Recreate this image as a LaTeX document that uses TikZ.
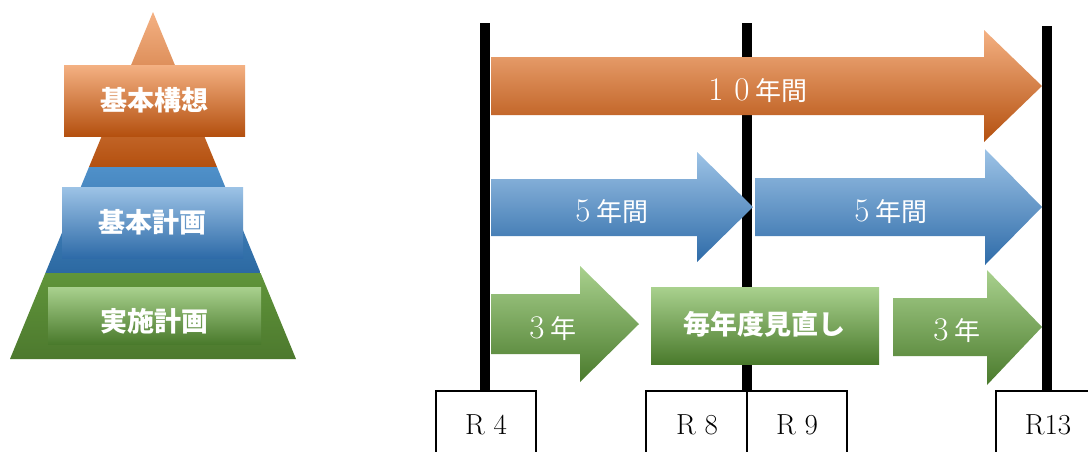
\documentclass[tikz,border=0pt]{standalone}
\usepackage{fontspec}
\newfontfamily\jp{Noto Sans CJK JP}
\definecolor{orL}{HTML}{F4B183}
\definecolor{orM}{HTML}{ED7D31}
\definecolor{orD}{HTML}{B4500F}
\definecolor{blL}{HTML}{9DC3E6}
\definecolor{blM}{HTML}{5B9BD5}
\definecolor{blD}{HTML}{2E6BA8}
\definecolor{grL}{HTML}{A9D18E}
\definecolor{grM}{HTML}{70AD47}
\definecolor{grD}{HTML}{4A7A2C}
\definecolor{pbT}{HTML}{4F90C9}
\definecolor{pbB}{HTML}{2C69A2}
\definecolor{pgT}{HTML}{60953A}
\definecolor{pgB}{HTML}{4D792E}
\newcommand\fwd[1]{\makebox[1em]{\fontsize{33}{36}\selectfont #1}}
\tikzset{
  orangefill/.style={top color=orL, middle color=orM, bottom color=orD},
  bluefill/.style={top color=blL, middle color=blM, bottom color=blD},
  greenfill/.style={top color=grL, middle color=grM, bottom color=grD},
  pyrtext/.style={text=white, font=\jp\bfseries\fontsize{27}{30}\selectfont, inner sep=0pt},
  arrtext/.style={text=white, font=\fontsize{26}{30}\selectfont, inner sep=0pt},
  yearbox/.style={draw=black, line width=1.5pt, fill=white},
  yeartext/.style={font=\fontsize{29}{32}\selectfont, inner sep=0pt},
  timeline/.style={fill=black},
}
\begin{document}
\begin{tikzpicture}[x=1pt,y=-1pt]
\clip (0,0) rectangle (1088,451);
\fill[white] (0,0) rectangle (1088,451);

% ---------- pyramid ----------
\shade[top color=orL, middle color=orM, bottom color=orD]
  (153,12) -- (217,167) -- (89,167) -- cycle;
\shade[top color=pbT, bottom color=pbB]
  (89,167) -- (217,167) -- (260.6,273) -- (45.4,273) -- cycle;
\shade[top color=pgT, bottom color=pgB]
  (45.4,273) -- (260.6,273) -- (296,359) -- (10,359) -- cycle;

\shade[orangefill] (64,65) rectangle (245,136);
\shade[bluefill] (62,187) rectangle (243,258);
\shade[greenfill] (48,287) rectangle (261,344);

\node[pyrtext] (kousou) at (154,100) {基本構想};
\node[pyrtext] (keikaku) at (152,222) {基本計画};
\node[pyrtext] (jisshi) at (154,321) {実施計画};

% ---------- time lines ----------
\fill[timeline] (480,23) rectangle (490,392);
\fill[timeline] (742,23) rectangle (752,392);
\fill[timeline] (1042,26) rectangle (1052,392);

% ---------- arrows ----------
\shade[orangefill] (491,57) -- (984,57) -- (984,30) -- (1042,86) -- (984,142)
  -- (984,115) -- (491,115) -- cycle;
\node[arrtext] (ten) at (755,91) {\fwd{1}\fwd{0}{\jp 年間}};

\shade[bluefill] (491,179) -- (697,179) -- (697,152) -- (753,207) -- (697,262)
  -- (697,236) -- (491,236) -- cycle;
\node[arrtext] (fiveA) at (609,212) {\fwd{5}{\jp 年間}};

\shade[bluefill] (755,178) -- (985,178) -- (985,149) -- (1042,207) -- (985,265)
  -- (985,236) -- (755,236) -- cycle;
\node[arrtext] (fiveB) at (888,212) {\fwd{5}{\jp 年間}};

\shade[greenfill] (491,294) -- (580,294) -- (580,266) -- (639,324) -- (580,382)
  -- (580,354) -- (491,354) -- cycle;
\node[arrtext] (threeA) at (550,329) {\fwd{3}{\jp 年}};

\shade[greenfill] (651,287) rectangle (879,364);
\node[pyrtext] (review) at (764,324) {毎年度見直し};

\shade[greenfill] (893,298) -- (987,298) -- (987,270) -- (1042,327) -- (987,385)
  -- (987,356) -- (893,356) -- cycle;
\node[arrtext] (threeB) at (954,331) {\fwd{3}{\jp 年}};

% ---------- year boxes ----------
\draw[yearbox] (436,391) rectangle (536,470);
\draw[yearbox] (646,391) rectangle (747,470);
\draw[yearbox] (747,391) rectangle (847,470);
\draw[yearbox] (996,391) rectangle (1096,470);
\node[yeartext] (rfour) at (486,425) {R 4};
\node[yeartext] (reight) at (697,425) {R 8};
\node[yeartext] (rnine) at (797,425) {R 9};
\node[yeartext] (rthirteen) at (1048,425) {R13};
\end{tikzpicture}
\end{document}
